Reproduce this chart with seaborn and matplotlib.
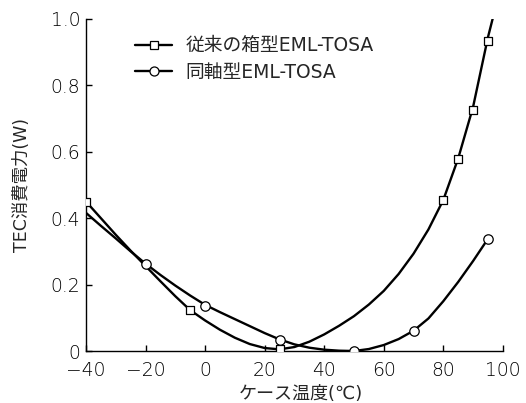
import pandas as pd
import matplotlib
matplotlib.use('Agg')
import matplotlib.pyplot as plt
from matplotlib.lines import Line2D
import seaborn as sns

box_temp = [-40, -5, 25, 80, 85, 90, 95]
box_power = [0.45, 0.123, 0.005, 0.455, 0.578, 0.727, 0.935]

coax_temp = [-20, 0, 25, 50, 70, 95]
coax_power = [0.263, 0.136, 0.033, 0.001, 0.06, 0.337]

# drawn trend curves
box_curve_temp = [-40, -35, -30, -25, -20, -15, -10, -5, 0, 5, 10, 15, 20, 25, 30,
                  35, 40, 45, 50, 55, 60, 65, 70, 75, 80, 85, 90, 95, 96.7]
box_curve_power = [0.450, 0.400, 0.350, 0.302, 0.256, 0.210, 0.165, 0.123, 0.092,
                   0.064, 0.040, 0.021, 0.009, 0.005, 0.012, 0.028, 0.050, 0.076,
                   0.105, 0.140, 0.181, 0.232, 0.293, 0.366, 0.455, 0.580, 0.735,
                   0.945, 1.005]

coax_curve_temp = [-40, -35, -30, -25, -20, -15, -10, -5, 0, 5, 10, 15, 20, 25, 30,
                   35, 40, 45, 50, 55, 60, 65, 70, 75, 80, 85, 90, 95]
coax_curve_power = [0.416, 0.377, 0.339, 0.300, 0.263, 0.229, 0.197, 0.167, 0.139,
                    0.117, 0.096, 0.075, 0.054, 0.035, 0.020, 0.010, 0.004, 0.001,
                    0.000, 0.006, 0.018, 0.036, 0.061, 0.098, 0.150, 0.208, 0.271,
                    0.338]

box_label = '従来の箱型EML-TOSA'
coax_label = '同軸型EML-TOSA'
x_ticks = [-40, -20, 0, 20, 40, 60, 80, 100]
y_ticks = [0, 0.2, 0.4, 0.6, 0.8, 1.0]
y_tick_labels = ['0', '0.2', '0.4', '0.6', '0.8', '1.0']

sns.set_style('ticks')
plt.rcParams['font.family'] = ['DejaVu Sans', 'Noto Sans CJK JP']
plt.rcParams['axes.unicode_minus'] = True

fig = plt.figure(figsize=(5.26, 4.03), dpi=100)
ax = fig.add_axes([0.1635, 0.129, 0.7925, 0.824])

sns.lineplot(x=box_curve_temp, y=box_curve_power, color='black', linewidth=1.7,
             estimator=None, ax=ax)
sns.lineplot(x=coax_curve_temp, y=coax_curve_power, color='black', linewidth=1.7,
             estimator=None, ax=ax)

sns.scatterplot(x=box_temp, y=box_power, marker='s', s=38,
                facecolors='white', edgecolor='black', linewidth=0.9, ax=ax, zorder=3)
sns.scatterplot(x=coax_temp, y=coax_power, marker='o', s=46,
                facecolors='white', edgecolor='black', linewidth=0.9, ax=ax, zorder=3)

ax.set_xlim(-40, 100)
ax.set_ylim(0, 1.0)
ax.set_xticks(x_ticks)
ax.set_yticks(y_ticks)
ax.set_yticklabels(y_tick_labels)
ax.tick_params(direction='in', length=4.5, width=1, colors='black', labelsize=13.5)
ax.tick_params(axis='x', pad=7.5)
ax.tick_params(axis='y', pad=4)
plt.setp(ax.get_xticklabels() + ax.get_yticklabels(), fontweight='light')
sns.despine(ax=ax)
for s in ['left', 'bottom']:
    ax.spines[s].set_linewidth(1.0)
    ax.spines[s].set_color('black')

ax.set_xlabel('ケース温度(℃)', fontsize=13, labelpad=3)
ax.xaxis.label.set_x(0.516)
ax.set_ylabel('TEC消費電力(W)', fontsize=12.5, labelpad=14)

handles = [
    Line2D([], [], color='black', linewidth=1.7, marker='s', markersize=6,
           markerfacecolor='white', markeredgecolor='black', markeredgewidth=0.9),
    Line2D([], [], color='black', linewidth=1.7, marker='o', markersize=6.5,
           markerfacecolor='white', markeredgecolor='black', markeredgewidth=0.9),
]
ax.legend(handles, [box_label, coax_label], loc='upper left',
          bbox_to_anchor=(0.1175, 0.948), frameon=False, fontsize=13.5,
          borderpad=0, borderaxespad=0,
          handlelength=2.0, handletextpad=0.7, labelspacing=0.4)

fig.savefig('out.png', dpi=100)
